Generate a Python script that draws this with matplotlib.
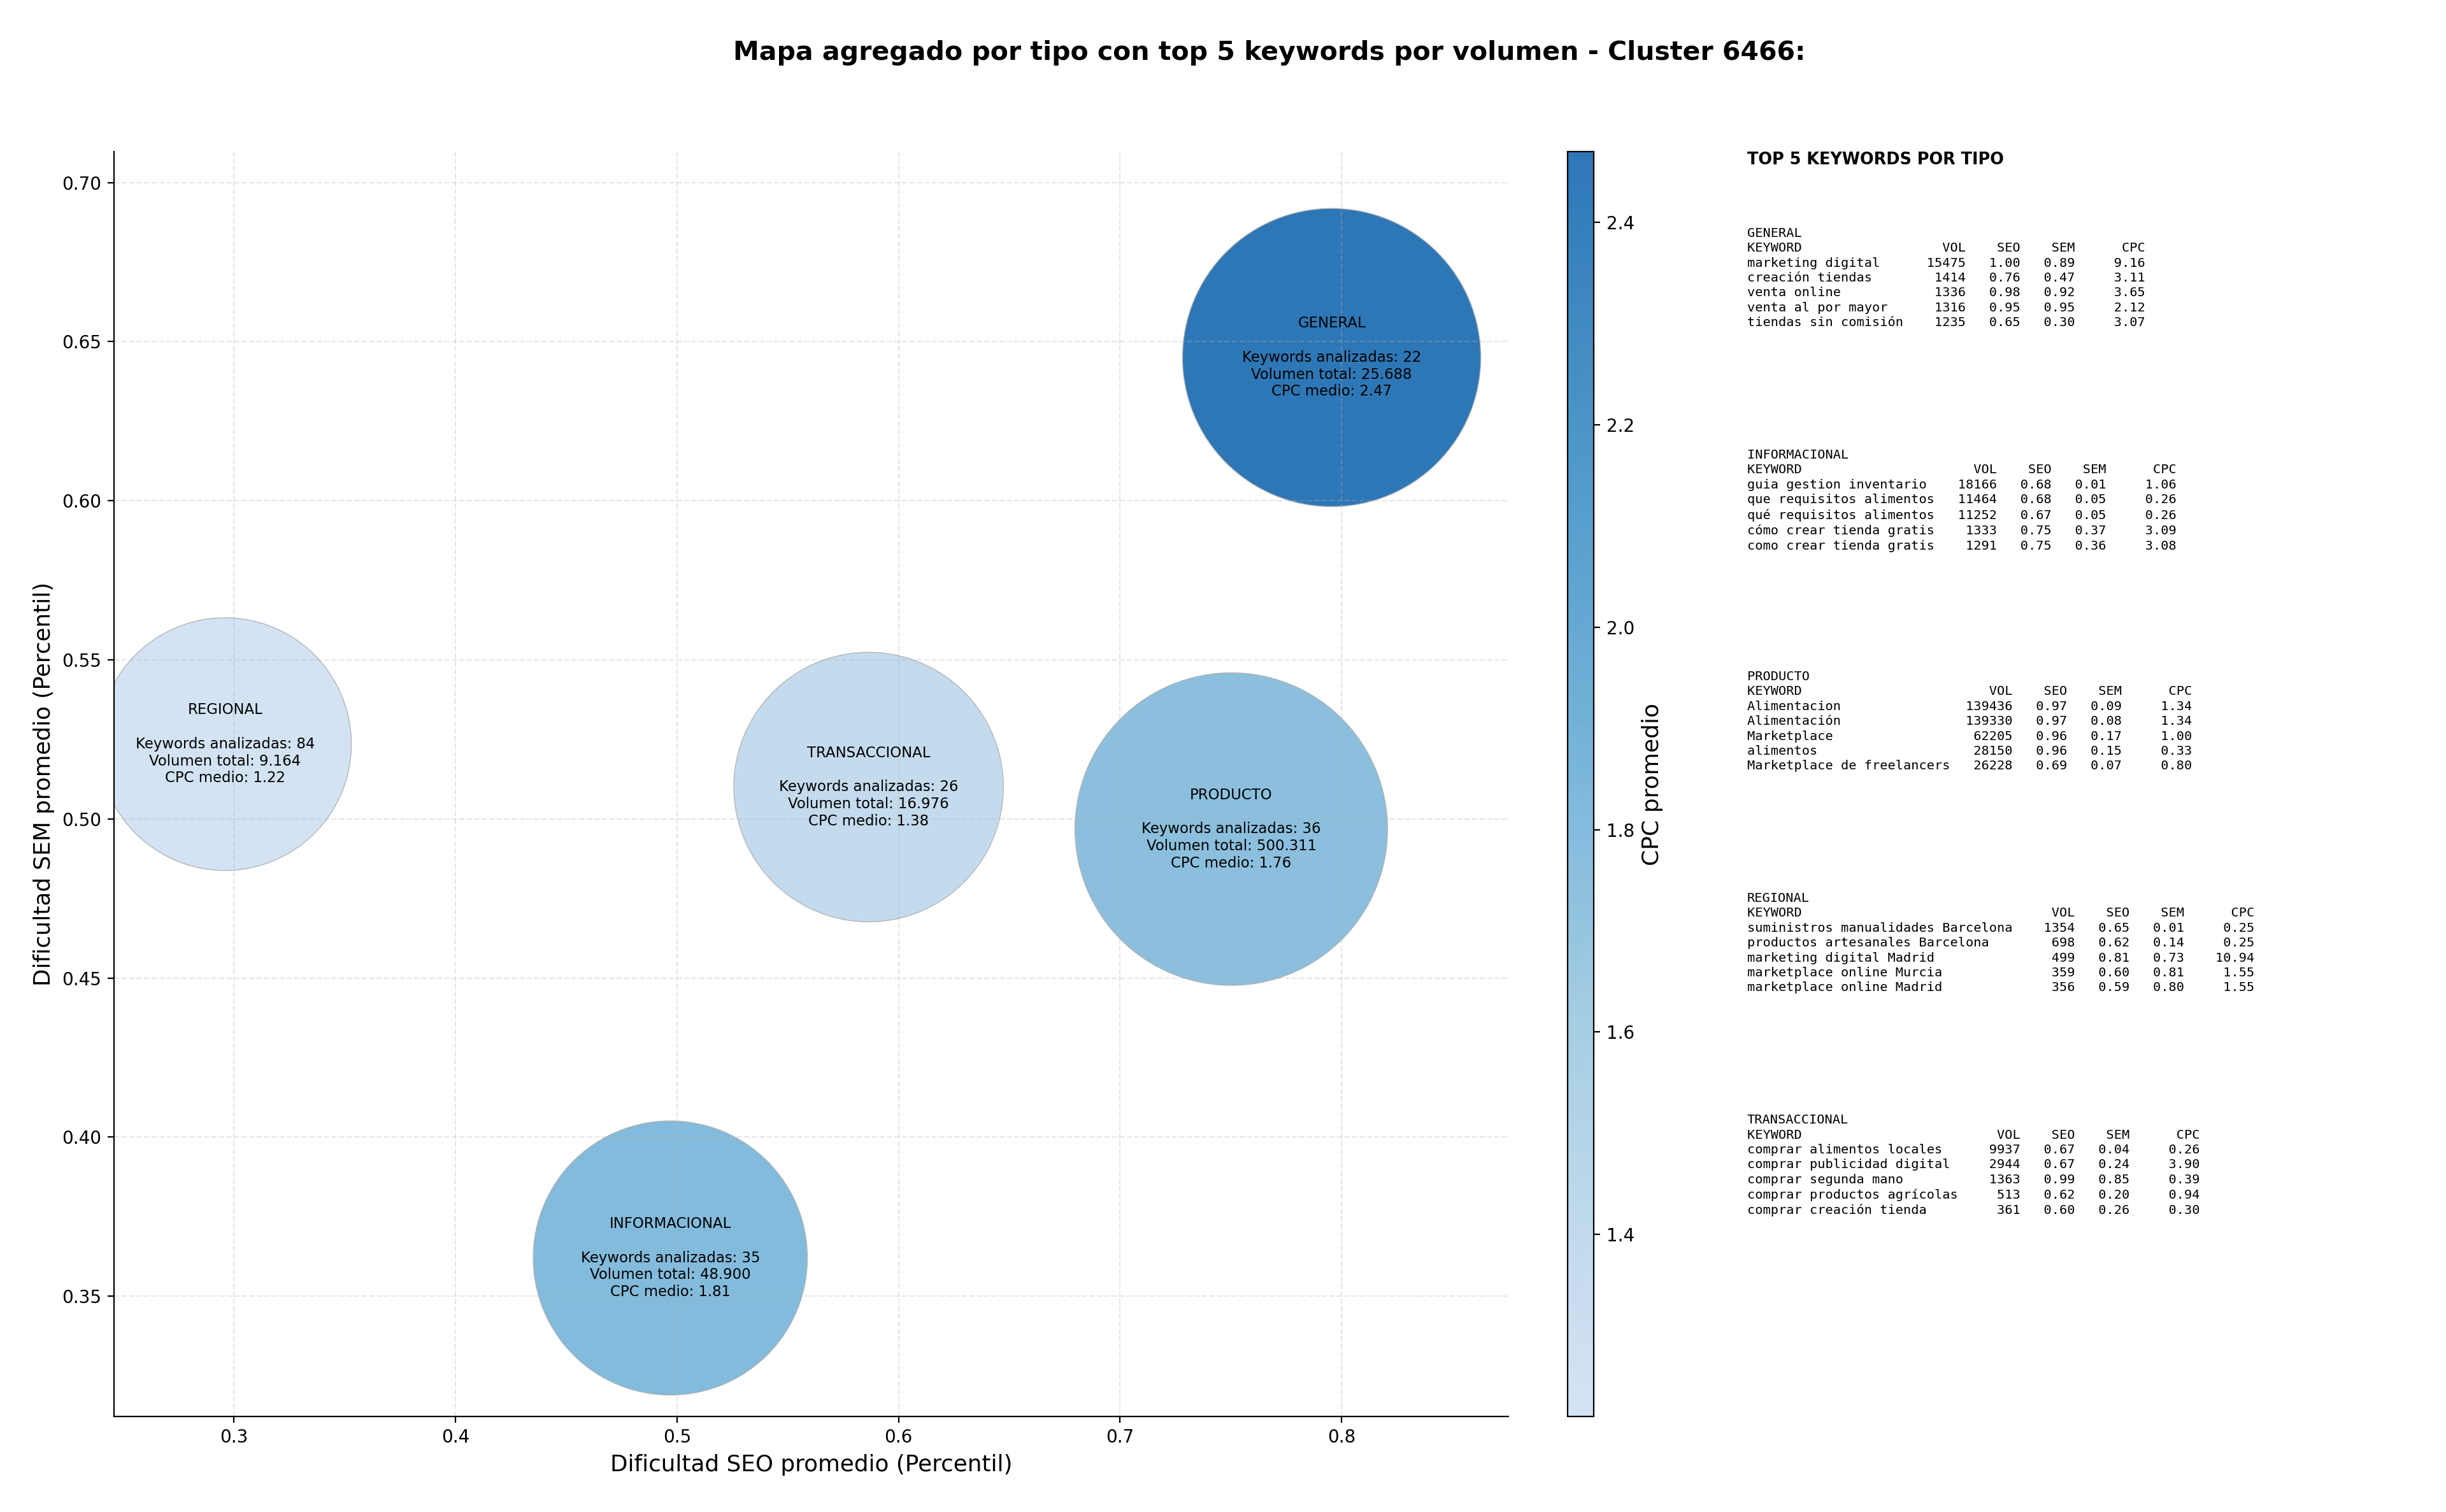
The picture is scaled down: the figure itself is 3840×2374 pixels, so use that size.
import matplotlib
matplotlib.use("Agg")
import matplotlib.pyplot as plt
import numpy as np
from matplotlib.colors import ListedColormap

# aggregated values per type
tipos = ['GENERAL', 'INFORMACIONAL', 'PRODUCTO', 'REGIONAL', 'TRANSACCIONAL']
seo_medio = [0.7955, 0.4970, 0.7502, 0.2960, 0.5865]
sem_medio = [0.6450, 0.3620, 0.4968, 0.5235, 0.5100]
n_keywords = [22, 35, 36, 84, 26]
volumen_total = [25688, 48900, 500311, 9164, 16976]
cpc_medio = [2.47, 1.81, 1.76, 1.22, 1.38]
bubble_size = [28400, 24000, 31200, 20400, 23200]

# top 5 keywords per type: keyword, vol, seo, sem, cpc
top_general = [
    ('marketing digital', 15475, 1.00, 0.89, 9.16),
    ('creación tiendas', 1414, 0.76, 0.47, 3.11),
    ('venta online', 1336, 0.98, 0.92, 3.65),
    ('venta al por mayor', 1316, 0.95, 0.95, 2.12),
    ('tiendas sin comisión', 1235, 0.65, 0.30, 3.07),
]
top_informacional = [
    ('guia gestion inventario', 18166, 0.68, 0.01, 1.06),
    ('que requisitos alimentos', 11464, 0.68, 0.05, 0.26),
    ('qué requisitos alimentos', 11252, 0.67, 0.05, 0.26),
    ('cómo crear tienda gratis', 1333, 0.75, 0.37, 3.09),
    ('como crear tienda gratis', 1291, 0.75, 0.36, 3.08),
]
top_producto = [
    ('Alimentacion', 139436, 0.97, 0.09, 1.34),
    ('Alimentación', 139330, 0.97, 0.08, 1.34),
    ('Marketplace', 62205, 0.96, 0.17, 1.00),
    ('alimentos', 28150, 0.96, 0.15, 0.33),
    ('Marketplace de freelancers', 26228, 0.69, 0.07, 0.80),
]
top_regional = [
    ('suministros manualidades Barcelona', 1354, 0.65, 0.01, 0.25),
    ('productos artesanales Barcelona', 698, 0.62, 0.14, 0.25),
    ('marketing digital Madrid', 499, 0.81, 0.73, 10.94),
    ('marketplace online Murcia', 359, 0.60, 0.81, 1.55),
    ('marketplace online Madrid', 356, 0.59, 0.80, 1.55),
]
top_transaccional = [
    ('comprar alimentos locales', 9937, 0.67, 0.04, 0.26),
    ('comprar publicidad digital', 2944, 0.67, 0.24, 3.90),
    ('comprar segunda mano', 1363, 0.99, 0.85, 0.39),
    ('comprar productos agrícolas', 513, 0.62, 0.20, 0.94),
    ('comprar creación tienda', 361, 0.60, 0.26, 0.30),
]
top_por_tipo = [top_general, top_informacional, top_producto, top_regional, top_transaccional]

cmap = ListedColormap(plt.cm.Blues(np.linspace(0.2, 0.77, 256)))

fig = plt.figure(figsize=(19.2, 11.87), dpi=200)
ax = fig.add_axes([0.0466, 0.0632, 0.5701, 0.8365])

sc = ax.scatter(seo_medio, sem_medio, s=bubble_size, c=cpc_medio, cmap=cmap,
                alpha=0.92, edgecolors='#b0b0b0', linewidths=0.5)

for i, t in enumerate(tipos):
    vol = f"{volumen_total[i]:,}".replace(',', '.')
    label = f"{t}\n\nKeywords analizadas: {n_keywords[i]}\nVolumen total: {vol}\nCPC medio: {cpc_medio[i]:.2f}"
    ax.text(seo_medio[i], sem_medio[i], label, ha='center', va='center',
            fontsize=8.2, multialignment='center', linespacing=1.21)

ax.set_xlim(0.2459, 0.8753)
ax.set_ylim(0.3122, 0.7097)
ax.grid(True, linestyle='--', alpha=0.3)
ax.spines['top'].set_visible(False)
ax.spines['right'].set_visible(False)
ax.set_xlabel('Dificultad SEO promedio (Percentil)', fontsize=12.9)
ax.set_ylabel('Dificultad SEM promedio (Percentil)', fontsize=12.9)

cax = fig.add_axes([0.6409, 0.0632, 0.0107, 0.8365])
cb = fig.colorbar(sc, cax=cax)
cb.set_label('CPC promedio', fontsize=13)

fig.text(0.519, 0.965, 'Mapa agregado por tipo con top 5 keywords por volumen - Cluster 6466:',
         ha='center', va='center', fontsize=14.75, fontweight='bold')

# keyword table panel
fig.text(0.7143, 0.8997, 'TOP 5 KEYWORDS POR TIPO', ha='left', va='top',
         fontsize=9.2, fontweight='bold')

for i, (t, rows) in enumerate(zip(tipos, top_por_tipo)):
    w = max(len(r[0]) for r in rows)
    lines = [t, f"{'KEYWORD':<{w}}{'VOL':>8}{'SEO':>7}{'SEM':>7}{'CPC':>9}"]
    for kw, vol, seo, sem, cpc in rows:
        lines.append(f"{kw:<{w}}{vol:>8}{seo:>7.2f}{sem:>7.2f}{cpc:>9.2f}")
    fig.text(0.7143, 0.8496 - i * 0.1466, '\n'.join(lines), ha='left', va='top',
             fontsize=7.3, family='DejaVu Sans Mono', linespacing=1.29)

fig.savefig('out.png', dpi=200)
